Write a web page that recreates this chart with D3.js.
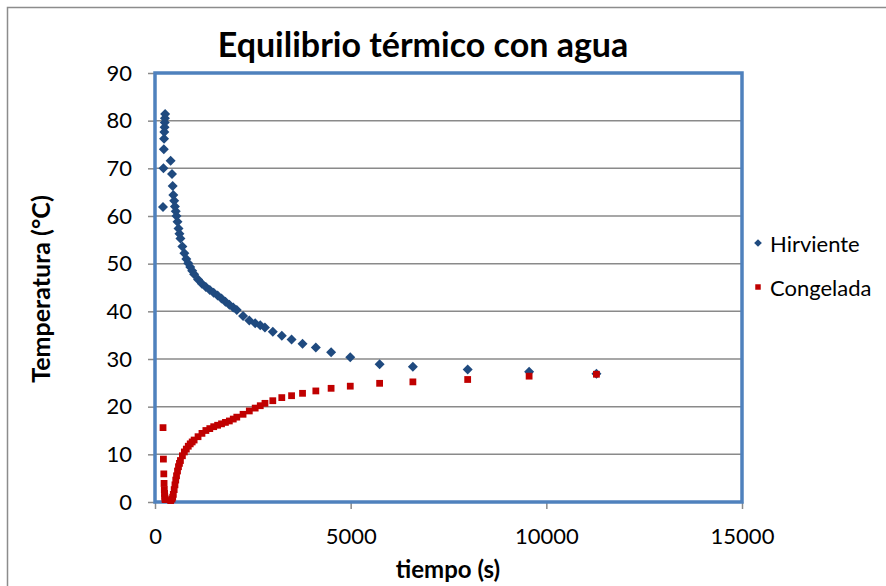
<!DOCTYPE html>
<html>
<head>
<meta charset="utf-8">
<script src="https://cdn.jsdelivr.net/npm/d3@7"></script>
<style>
  html, body { margin: 0; padding: 0; background: #fff; }
  svg { display: block; font-family: Lato, "Open Sans", sans-serif; }
</style>
</head>
<body>
<svg id="chart" width="886" height="586"></svg>
<script>
// Tiempo (s) de cada lectura
const tiempo = [
  205, 215, 225, 232, 238, 244, 249, 254, 259, 400, 434, 452, 468,
  490, 510, 530, 550, 575, 600, 625, 650, 700, 750, 800, 850, 900, 950, 1000,
  1100, 1200, 1300, 1400, 1500, 1600, 1700, 1800, 1900, 2000,
  2090, 2250, 2410, 2560, 2690, 2810, 3010, 3240, 3490, 3770, 4110, 4500,
  4990, 5740, 6590, 7990, 9560, 11280
];
// Temperatura del agua hirviente (°C)
const hirviente = [
  61.9, 70.0, 74.0, 76.2, 77.6, 78.6, 79.6, 80.5, 81.4, 71.6, 68.8, 66.3, 64.4,
  63.2, 62.0, 61.0, 60.0, 58.8, 57.4, 56.3, 55.3, 53.6, 52.2, 51.0, 50.1, 49.3, 48.5, 47.8,
  46.7, 45.8, 45.1, 44.5, 43.9, 43.3, 42.7, 42.0, 41.4, 40.8,
  40.3, 39.0, 38.1, 37.5, 37.1, 36.6, 35.7, 34.9, 34.1, 33.2, 32.4, 31.4,
  30.35, 28.9, 28.4, 27.8, 27.3, 26.9
];
// Temperatura del agua congelada (°C)
const congelada = [
  15.6, 9.0, 5.9, 3.9, 2.6, 1.8, 1.2, 0.8, 0.5, 0.3, 0.6, 1.0, 1.6,
  2.6, 3.6, 4.6, 5.5, 6.5, 7.4, 8.1, 8.7, 9.7, 10.5, 11.1, 11.7, 12.2, 12.6, 13.0,
  13.7, 14.4, 15.0, 15.4, 15.8, 16.1, 16.4, 16.7, 17.0, 17.4,
  17.8, 18.4, 19.1, 19.7, 20.2, 20.7, 21.25, 21.9, 22.3, 22.8, 23.3, 23.85,
  24.3, 24.9, 25.2, 25.7, 26.4, 26.8
];
const xTicks = [0, 5000, 10000, 15000];
const yTicks = [0, 10, 20, 30, 40, 50, 60, 70, 80, 90];
const seriesNames = ["Hirviente", "Congelada"];

const svg = d3.select("#chart");
const plotLeft = 155, plotRight = 742, plotTop = 73, plotBottom = 502;

const x = d3.scaleLinear().domain([0, 15000]).range([plotLeft, plotRight]);
const y = d3.scaleLinear().domain([0, 90]).range([plotBottom, plotTop]);

// Marco exterior del gráfico
svg.append("rect")
  .attr("x", 7.5).attr("y", 7.5)
  .attr("width", 900).attr("height", 600)
  .attr("fill", "#fff").attr("stroke", "#8c8c8c").attr("stroke-width", 1.5);

// Líneas de división horizontales
svg.append("g")
  .selectAll("line")
  .data(yTicks.filter(d => d > 0 && d < 90))
  .join("line")
  .attr("x1", plotLeft).attr("x2", plotRight)
  .attr("y1", d => y(d)).attr("y2", d => y(d))
  .attr("stroke", "#8a8a8a").attr("stroke-width", 1.5);

// Ejes
const yAxis = svg.append("g")
  .attr("transform", `translate(${plotLeft},0)`)
  .call(d3.axisLeft(y).tickValues(yTicks).tickSize(7).tickPadding(16));
const xAxis = svg.append("g")
  .attr("transform", `translate(0,${plotBottom})`)
  .call(d3.axisBottom(x).tickValues(xTicks).tickFormat(d3.format("d")).tickSize(7).tickPadding(19));
[yAxis, xAxis].forEach(g => {
  g.select(".domain").remove();
  g.selectAll(".tick line").attr("stroke", "#8a8a8a").attr("stroke-width", 1.5);
  g.selectAll(".tick text")
    .attr("fill", "#000")
    .style("font-family", "Lato, sans-serif")
    .style("font-size", "22px");
});

// Borde del área de trazado
svg.append("rect")
  .attr("x", plotLeft).attr("y", plotTop)
  .attr("width", plotRight - plotLeft).attr("height", plotBottom - plotTop)
  .attr("fill", "none").attr("stroke", "#4f81bd").attr("stroke-width", 3.5);

const blue = "#1f4a7f", red = "#c00000";
const diamond = d3.symbol().type(d3.symbolSquare).size(50);
const square = d3.symbol().type(d3.symbolSquare).size(46);

// Serie Hirviente (rombos)
svg.append("g")
  .selectAll("path")
  .data(tiempo.map((t, i) => [t, hirviente[i]]))
  .join("path")
  .attr("d", diamond)
  .attr("transform", d => `translate(${x(d[0])},${y(d[1])}) rotate(45)`)
  .attr("fill", blue);

// Serie Congelada (cuadrados)
svg.append("g")
  .selectAll("path")
  .data(tiempo.map((t, i) => [t, congelada[i]]))
  .join("path")
  .attr("d", square)
  .attr("transform", d => `translate(${x(d[0])},${y(d[1])})`)
  .attr("fill", red);

// Título
svg.append("text")
  .attr("x", 423).attr("y", 57)
  .attr("text-anchor", "middle")
  .style("font-size", "34px").style("font-weight", "bold")
  .text("Equilibrio térmico con agua");

// Títulos de los ejes
svg.append("text")
  .attr("x", 448).attr("y", 578)
  .attr("text-anchor", "middle")
  .style("font-size", "24px").style("font-weight", "bold")
  .text("tiempo (s)");
svg.append("text")
  .attr("transform", "translate(50,289) rotate(-90)")
  .attr("text-anchor", "middle")
  .style("font-size", "25px").style("font-weight", "bold")
  .text("Temperatura (°C)");

// Leyenda
const legend = svg.append("g");
const items = [
  { name: seriesNames[0], color: blue, rot: 45, y: 243 },
  { name: seriesNames[1], color: red, rot: 0, y: 287 }
];
items.forEach(it => {
  legend.append("path")
    .attr("d", d3.symbol().type(d3.symbolSquare).size(30)())
    .attr("transform", `translate(758,${it.y}) rotate(${it.rot})`)
    .attr("fill", it.color);
  legend.append("text")
    .attr("x", 770).attr("y", it.y)
    .attr("dominant-baseline", "central")
    .style("font-size", "22px")
    .text(it.name);
});
</script>
</body>
</html>
